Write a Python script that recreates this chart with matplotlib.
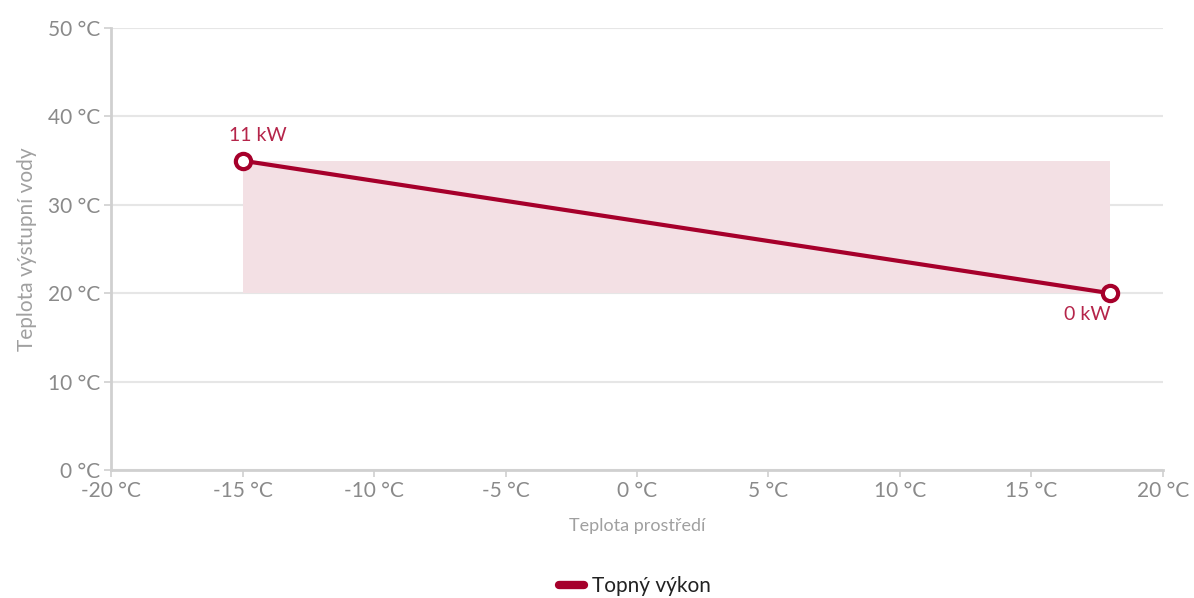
import matplotlib
matplotlib.use('Agg')
import matplotlib.pyplot as plt
from matplotlib.patches import Rectangle

# data
x_outdoor = [-15, 18]
y_water = [35, 20]
point_labels = ['11 kW', '0 kW']
band_x = [-15, 18]
band_y = [20, 35]
x_ticks = [-20, -15, -10, -5, 0, 5, 10, 15, 20]
y_ticks = [0, 10, 20, 30, 40, 50]

red = '#a6002b'
plt.rcParams['font.family'] = ['Lato', 'DejaVu Sans']

fig = plt.figure(figsize=(11.94, 5.98), dpi=100)
ax = fig.add_axes([0.093, 0.214, 0.881, 0.739])

ax.add_patch(Rectangle((band_x[0], band_y[0]), band_x[1] - band_x[0],
                       band_y[1] - band_y[0], facecolor='#f3e0e4',
                       edgecolor='none', zorder=1))
line, = ax.plot(x_outdoor, y_water, color=red, lw=3, marker='o', ms=11,
                mfc='white', mec=red, mew=3, zorder=4, clip_on=False)

ax.annotate(point_labels[0], (x_outdoor[0], y_water[0]), xytext=(-10, 12),
            textcoords='offset points', ha='left', va='bottom',
            color='#b5254a', fontsize=14)
ax.annotate(point_labels[1], (x_outdoor[1], y_water[1]), xytext=(0, -9),
            textcoords='offset points', ha='right', va='top',
            color='#b5254a', fontsize=14)

ax.set_xlim(-20, 20)
ax.set_ylim(0, 50)
ax.set_xticks(x_ticks)
ax.set_xticklabels(['%d °C' % t for t in x_ticks])
ax.set_yticks(y_ticks)
ax.set_yticklabels(['%d °C' % t for t in y_ticks])
ax.grid(axis='y', color='#e6e6e6', lw=1.5, zorder=0)
ax.set_axisbelow(True)

for s in ['top', 'right']:
    ax.spines[s].set_visible(False)
for s in ['left', 'bottom']:
    ax.spines[s].set_color('#d0d0d0')
    ax.spines[s].set_linewidth(2)
ax.tick_params(colors='#d0d0d0', labelcolor='#8a8a8a', labelsize=15,
               length=5, width=1.2)
ax.tick_params(axis='x', pad=3)
ax.tick_params(axis='y', pad=3)

ax.set_xlabel('Teplota prostředí', color='#a0a0a0', fontsize=13, labelpad=12)
ax.set_ylabel('Teplota výstupní vody', color='#a0a0a0', fontsize=15, labelpad=8)

fig.legend([line], ['Topný výkon'], loc='center', bbox_to_anchor=(0.532, 0.02),
           frameon=False, fontsize=15, handlelength=1.2, handletextpad=0.4,
           labelcolor='#222222')
leg = fig.legends[0]
for h in leg.legend_handles:
    h.set_marker('')
    h.set_linewidth(6)
    h.set_solid_capstyle('round')

fig.savefig('out.png', dpi=100)
